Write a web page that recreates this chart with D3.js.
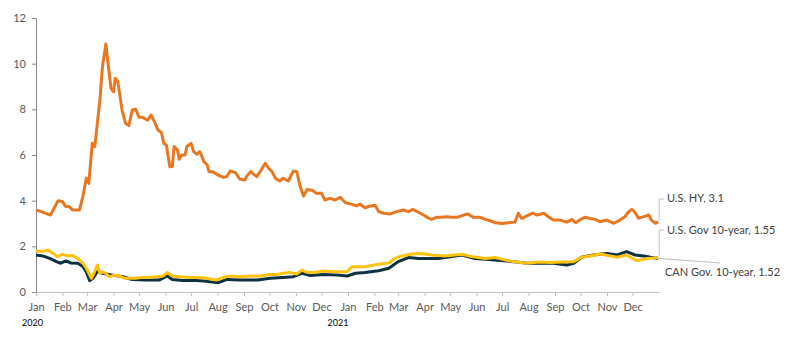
<!DOCTYPE html>
<html><head><meta charset="utf-8">
<script src="https://cdn.jsdelivr.net/npm/d3@7"></script>
<style>body{margin:0;background:#fff}svg{display:block}text{font-family:Lato,"Open Sans",sans-serif}</style>
</head><body><svg id="c" width="788" height="340"></svg>
<script>
const yTicks = [0,2,4,6,8,10,12];
const yearLabels = [["2020-01-01","2020"],["2021-01-01","2021"]];
const seriesNames = ["U.S. HY","U.S. Gov 10-year","CAN Gov. 10-year"];
const endLabels = ["U.S. HY, 3.1","U.S. Gov 10-year, 1.55","CAN Gov. 10-year, 1.52"];

const hyData = [
["2020-01-01",3.59],["2020-01-07",3.52],["2020-01-18",3.37],["2020-01-27",4.0],["2020-02-01",3.96],
["2020-02-05",3.74],["2020-02-09",3.74],["2020-02-13",3.59],["2020-02-21",3.59],["2020-02-25",4.18],
["2020-02-29",4.98],["2020-03-03",4.76],["2020-03-07",6.51],["2020-03-10",6.37],["2020-03-13",7.39],
["2020-03-16",8.41],["2020-03-19",9.87],["2020-03-23",10.86],["2020-03-26",9.87],["2020-03-29",8.92],
["2020-04-01",8.77],["2020-04-03",9.36],["2020-04-06",9.21],["2020-04-11",7.97],["2020-04-15",7.39],
["2020-04-19",7.29],["2020-04-23",7.97],["2020-04-27",8.0],["2020-05-01",7.65],["2020-05-05",7.65],
["2020-05-11",7.53],["2020-05-15",7.75],["2020-05-19",7.46],["2020-05-23",7.1],["2020-05-27",7.0],
["2020-05-30",6.51],["2020-06-02",6.44],["2020-06-06",5.49],["2020-06-09",5.5],["2020-06-11",6.37],
["2020-06-15",6.22],["2020-06-17",5.81],["2020-06-20",6.0],["2020-06-24",6.0],["2020-06-26",6.37],
["2020-07-01",6.51],["2020-07-04",6.15],["2020-07-08",6.03],["2020-07-11",6.15],["2020-07-13",6.0],
["2020-07-16",5.71],["2020-07-20",5.56],["2020-07-22",5.27],["2020-07-26",5.27],["2020-08-02",5.12],
["2020-08-08",5.02],["2020-08-12",5.06],["2020-08-16",5.3],["2020-08-22",5.23],["2020-08-27",4.95],
["2020-09-02",4.9],["2020-09-05",5.11],["2020-09-09",5.27],["2020-09-12",5.17],["2020-09-16",5.05],
["2020-09-20",5.27],["2020-09-26",5.64],["2020-09-30",5.42],["2020-10-04",5.27],["2020-10-08",4.98],
["2020-10-13",4.86],["2020-10-17",4.98],["2020-10-23",4.86],["2020-10-29",5.3],["2020-11-02",5.27],
["2020-11-06",4.61],["2020-11-10",4.2],["2020-11-14",4.49],["2020-11-20",4.46],["2020-11-25",4.32],
["2020-12-01",4.32],["2020-12-05",4.03],["2020-12-11",4.1],["2020-12-17",4.03],["2020-12-23",4.15],
["2020-12-29",3.91],["2021-01-05",3.85],["2021-01-11",3.77],["2021-01-15",3.85],["2021-01-21",3.69],
["2021-01-28",3.77],["2021-02-02",3.8],["2021-02-06",3.52],["2021-02-12",3.45],["2021-02-20",3.42],
["2021-02-27",3.52],["2021-03-07",3.59],["2021-03-13",3.52],["2021-03-18",3.62],["2021-03-27",3.45],
["2021-04-04",3.27],["2021-04-09",3.18],["2021-04-15",3.27],["2021-04-21",3.27],["2021-04-27",3.3],
["2021-05-03",3.27],["2021-05-09",3.27],["2021-05-17",3.37],["2021-05-22",3.42],["2021-05-28",3.27],
["2021-06-05",3.27],["2021-06-11",3.18],["2021-06-17",3.12],["2021-06-23",3.03],["2021-07-01",3.0],
["2021-07-08",3.03],["2021-07-16",3.06],["2021-07-20",3.45],["2021-07-24",3.22],["2021-07-30",3.33],
["2021-08-06",3.45],["2021-08-11",3.37],["2021-08-19",3.45],["2021-08-24",3.3],["2021-08-30",3.15],
["2021-09-07",3.15],["2021-09-15",3.06],["2021-09-21",3.18],["2021-09-25",3.03],["2021-10-01",3.18],
["2021-10-06",3.27],["2021-10-12",3.22],["2021-10-18",3.18],["2021-10-24",3.08],["2021-11-01",3.15],
["2021-11-09",3.01],["2021-11-16",3.15],["2021-11-22",3.3],["2021-11-26",3.5],["2021-11-30",3.62],
["2021-12-03",3.53],["2021-12-08",3.23],["2021-12-14",3.3],["2021-12-20",3.37],["2021-12-23",3.15],
["2021-12-28",3.01],["2021-12-31",3.08]];

const usGovData = [
["2020-01-01",1.80],["2020-01-09",1.77],["2020-01-15",1.84],["2020-01-21",1.69],["2020-01-26",1.55],
["2020-02-01",1.65],["2020-02-07",1.58],["2020-02-13",1.6],["2020-02-19",1.47],["2020-02-25",1.26],
["2020-02-29",1.04],["2020-03-03",0.82],["2020-03-06",0.6],["2020-03-09",0.82],["2020-03-13",1.18],
["2020-03-16",0.82],["2020-03-19",0.88],["2020-03-23",0.82],["2020-03-27",0.67],["2020-04-02",0.74],
["2020-04-08",0.7],["2020-04-14",0.6],["2020-04-27",0.6],["2020-05-05",0.64],["2020-05-13",0.64],
["2020-05-21",0.67],["2020-05-29",0.7],["2020-06-03",0.85],["2020-06-09",0.7],["2020-06-17",0.67],
["2020-06-29",0.64],["2020-07-07",0.64],["2020-07-15",0.62],["2020-07-31",0.53],["2020-08-08",0.64],
["2020-08-16",0.7],["2020-08-27",0.67],["2020-09-08",0.7],["2020-09-20",0.7],["2020-10-02",0.77],
["2020-10-10",0.77],["2020-10-17",0.82],["2020-10-25",0.85],["2020-11-02",0.79],["2020-11-08",0.96],
["2020-11-14",0.86],["2020-11-22",0.85],["2020-12-03",0.92],["2020-12-15",0.89],["2020-12-31",0.89],
["2021-01-06",1.11],["2021-01-21",1.11],["2021-02-06",1.22],["2021-02-18",1.27],["2021-02-25",1.47],
["2021-03-05",1.58],["2021-03-17",1.66],["2021-03-29",1.69],["2021-04-09",1.62],["2021-04-25",1.58],
["2021-05-15",1.65],["2021-05-26",1.55],["2021-06-11",1.47],["2021-06-23",1.51],["2021-06-29",1.45],
["2021-07-14",1.33],["2021-07-30",1.26],["2021-08-13",1.31],["2021-08-26",1.29],["2021-09-11",1.31],
["2021-09-23",1.33],["2021-10-02",1.52],["2021-10-12",1.58],["2021-10-24",1.66],["2021-11-05",1.58],
["2021-11-13",1.52],["2021-11-24",1.62],["2021-12-06",1.37],["2021-12-18",1.47],["2021-12-31",1.5]];

const canGovData = [
["2020-01-01",1.62],["2020-01-09",1.58],["2020-01-17",1.47],["2020-01-25",1.33],["2020-01-30",1.26],
["2020-02-05",1.36],["2020-02-11",1.27],["2020-02-19",1.26],["2020-02-25",1.12],["2020-02-29",0.88],
["2020-03-04",0.5],["2020-03-08",0.6],["2020-03-13",0.9],["2020-03-19",0.82],["2020-03-31",0.74],
["2020-04-12",0.67],["2020-04-23",0.55],["2020-05-09",0.53],["2020-05-25",0.53],["2020-06-03",0.7],
["2020-06-09",0.55],["2020-06-21",0.5],["2020-07-07",0.5],["2020-07-16",0.48],["2020-08-02",0.41],
["2020-08-12",0.55],["2020-08-28",0.53],["2020-09-17",0.53],["2020-10-02",0.6],["2020-10-17",0.64],
["2020-10-29",0.67],["2020-11-08",0.82],["2020-11-18",0.72],["2020-12-03",0.77],["2020-12-19",0.74],
["2020-12-31",0.7],["2021-01-10",0.82],["2021-01-21",0.85],["2021-02-06",0.93],["2021-02-18",1.04],
["2021-03-01",1.33],["2021-03-13",1.51],["2021-03-25",1.47],["2021-04-05",1.47],["2021-04-17",1.47],
["2021-05-03",1.55],["2021-05-15",1.62],["2021-05-30",1.47],["2021-06-15",1.42],["2021-06-29",1.38],
["2021-07-14",1.33],["2021-07-30",1.26],["2021-08-15",1.26],["2021-08-30",1.26],["2021-09-15",1.18],
["2021-09-23",1.26],["2021-10-02",1.52],["2021-10-16",1.62],["2021-11-01",1.69],["2021-11-13",1.62],
["2021-11-24",1.77],["2021-12-04",1.62],["2021-12-14",1.58],["2021-12-22",1.52],["2021-12-31",1.47]];

const parse = d3.timeParse("%Y-%m-%d");
const svg = d3.select("#c");
const mLeft = 36, mRight = 659, mTop = 18, mBottom = 292;
const x = d3.scaleTime().domain([parse("2020-01-01"), parse("2022-01-01")]).range([mLeft, mRight]);
const y = d3.scaleLinear().domain([0, 12]).range([mBottom, mTop]);

// y axis
const ya = svg.append("g").attr("transform", `translate(${mLeft},0)`)
  .call(d3.axisLeft(y).tickValues(yTicks).tickSize(4).tickPadding(6).tickSizeOuter(0));
ya.select(".domain").attr("stroke", "#868686");
ya.selectAll(".tick line").attr("stroke", "#868686");
ya.selectAll("text").attr("fill", "#595959").style("font-size", "11px");

// x axis
const months = d3.timeMonth.range(parse("2020-01-01"), parse("2022-01-01"));
const xa = svg.append("g").attr("transform", `translate(0,${mBottom})`)
  .call(d3.axisBottom(x).tickValues(months).tickFormat(d3.timeFormat("%b")).tickSize(4).tickPadding(7).tickSizeOuter(0));
xa.select(".domain").attr("stroke", "#BFBFBF");
xa.selectAll(".tick line").attr("stroke", "#BFBFBF");
xa.selectAll("text").attr("fill", "#595959").style("font-size", "11px");

const yearShift = [-3.5, -10];
svg.selectAll(".yr").data(yearLabels).enter().append("text")
  .attr("x", (d,i) => x(parse(d[0])) + yearShift[i]).attr("y", 326).attr("text-anchor", "middle")
  .style("font-size", "9px").attr("fill", "#000").text(d => d[1]);

const line = d3.line().x(d => x(parse(d[0]))).y(d => y(d[1])).curve(d3.curveLinear);
const series = [
  {data: canGovData, color: "#0B3142"},
  {data: usGovData, color: "#FFC20E"},
  {data: hyData, color: "#E87722"}
];
svg.selectAll(".ln").data(series).enter().append("path")
  .attr("fill", "none").attr("stroke", d => d.color).attr("stroke-width", 3)
  .attr("stroke-linejoin", "round").attr("d", d => line(d.data));

// leader lines & labels
const endX = x(parse(hyData[hyData.length-1][0]));
const hyEnd = y(hyData[hyData.length-1][1]);
const usEnd = y(usGovData[usGovData.length-1][1]);
const canEnd = y(canGovData[canGovData.length-1][1]);
const g = svg.append("g").attr("stroke", "#BFBFBF").attr("fill", "none");
g.append("path").attr("d", `M${endX+1},${hyEnd-1}V199H664`);
g.append("path").attr("d", `M${endX+1},${usEnd-2}V230H664`);
g.append("path").attr("d", `M${endX},${canEnd}L720,263`);
const labY = [198, 230, 272];
const labX = [667, 667, 665];
svg.selectAll(".lab").data(endLabels).enter().append("text")
  .attr("x", (d,i) => labX[i]).attr("y", (d,i) => labY[i]).attr("dy", "0.35em")
  .style("font-size", "11px").attr("fill", "#404040").text(d => d);
</script></body></html>
